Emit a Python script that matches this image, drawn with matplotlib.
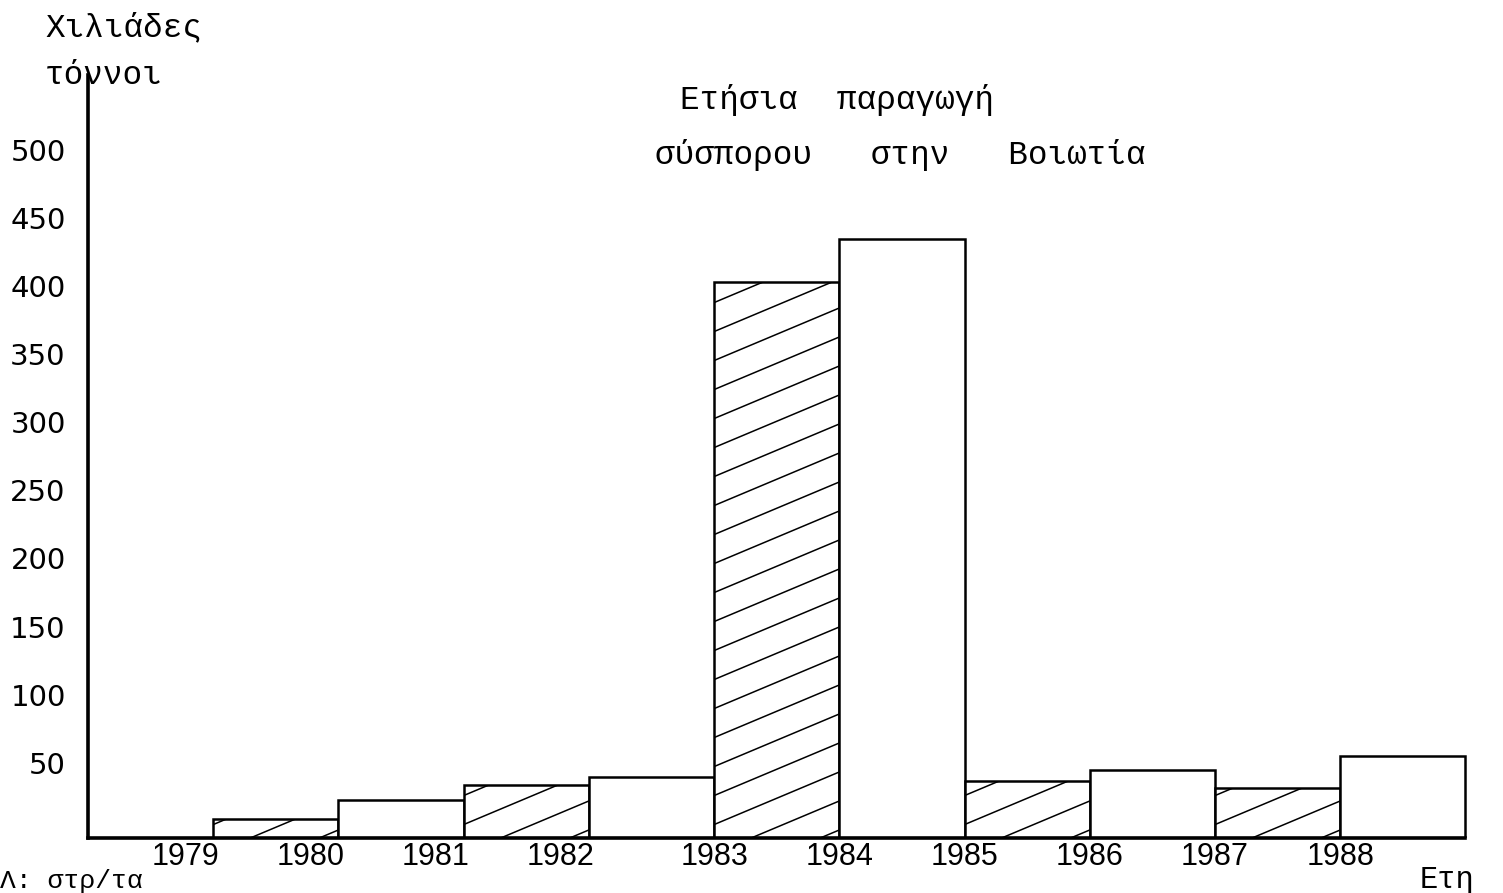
import matplotlib
matplotlib.use('Agg')
import matplotlib.pyplot as plt
from matplotlib.transforms import IdentityTransform, ScaledTranslation
import numpy as np

years = [1979, 1980, 1981, 1982, 1983, 1984, 1985, 1986, 1987, 1988]
values = [14, 28, 39, 45, 408, 440, 42, 50, 37, 60]
hatched = [True, False, True, False, True, False, True, False, True, False]
yticks = [50, 100, 150, 200, 250, 300, 350, 400, 450, 500]

mono = 'Liberation Mono'

fig = plt.figure(figsize=(15.03, 8.93), dpi=100)
ax = fig.add_axes([0.0585, 0.0616, 0.9415, 0.8544])
ax.set_xlim(1978, 1989.3)
ax.set_ylim(0, 560)

bars = ax.bar(years, values, width=1.0, align='edge', color='white',
              edgecolor='black', linewidth=1.8, zorder=2)

# shallow "/" hatching drawn per bar, clipped to the bar
for b, h in zip(bars, hatched):
    if not h:
        continue
    (x0, y0), (x1, y1) = ax.transData.transform([(b.get_x(), 0),
                                                 (b.get_x() + b.get_width(), b.get_height())])
    w = x1 - x0
    slope = 0.42
    for c in np.arange(y0 - slope * w + 8, y1, 29):
        ln, = ax.plot([x0, x1], [c, c + slope * w], color='black', lw=1.1,
                      transform=IdentityTransform(), zorder=3)
        ln.set_clip_path(b)

for s in ['top', 'right']:
    ax.spines[s].set_visible(False)
ax.spines['left'].set_linewidth(2.6)
ax.spines['bottom'].set_linewidth(2.6)
ax.spines['bottom'].set_bounds(1978, 1989)

ax.set_yticks(yticks)
ax.set_yticklabels([str(v) for v in yticks], fontsize=21, family='DejaVu Sans')
ax.tick_params(axis='y', length=0, pad=16)
# typed labels sit a little above their marks
for lab in ax.get_yticklabels():
    lab.set_transform(lab.get_transform() + ScaledTranslation(0, 7 / 100, fig.dpi_scale_trans))

ax.set_xticks(years)
ax.set_xticklabels([str(y) for y in years], fontsize=22, family='Liberation Sans')
ax.tick_params(axis='x', length=0, pad=3)
for i, lab in enumerate(ax.get_xticklabels()):
    if i < 4:
        lab.set_ha('right')
        lab.set_transform(lab.get_transform() + ScaledTranslation(6 / 100, 0, fig.dpi_scale_trans))

fig.text(45 / 1503, 1 - 28 / 893, 'Χιλιάδες', fontsize=23.5, family=mono, va='center')
fig.text(45 / 1503, 1 - 75 / 893, 'τόννοι', fontsize=23.5, family=mono, va='center')
fig.text(680 / 1503, 1 - 100 / 893, 'Ετήσια  παραγωγή', fontsize=23.5, family=mono, va='center')
fig.text(655 / 1503, 1 - 155 / 893, 'σύσπορου   στην   Βοιωτία', fontsize=23.5, family=mono, va='center')
fig.text(1420 / 1503, 1 - 880 / 893, 'Ετη', fontsize=22, family=mono, va='center')
fig.text(0.0, 0.0, 'Λ: στρ/τα', fontsize=19, family=mono, va='bottom')

fig.savefig('out.png', dpi=100)
